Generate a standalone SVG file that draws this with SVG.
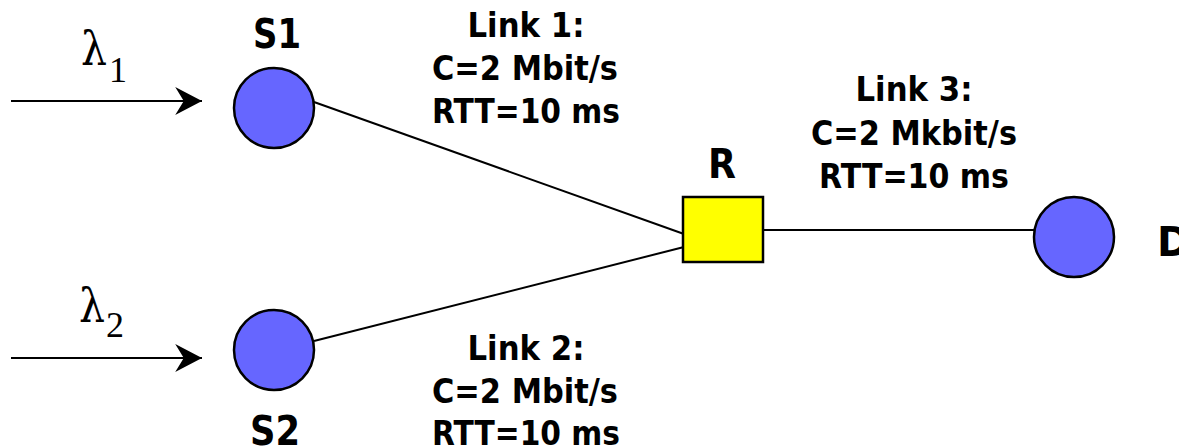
<svg xmlns="http://www.w3.org/2000/svg" width="1179" height="447" viewBox="0 0 1179 447">
  <style>
    .host { fill: #6666ff; stroke: #000; stroke-width: 2.5; }
    .router { fill: #ffff00; stroke: #000; stroke-width: 2.5; }
    .link { stroke: #000; stroke-width: 2; fill: none; }
    .name { font-family: "DejaVu Sans", "Liberation Sans", sans-serif; font-weight: bold; font-size: 40px; fill: #000; }
    .info { font-family: "DejaVu Sans", "Liberation Sans", sans-serif; font-weight: bold; font-size: 34px; fill: #000; text-anchor: middle; }
    .rate { font-family: "Liberation Serif", "DejaVu Serif", serif; fill: #000; }
    .lambda { font-family: "DejaVu Serif", "Liberation Serif", serif; font-size: 46px; }
    .sub { font-size: 36px; }
  </style>
  <defs>
    <marker id="head" markerUnits="userSpaceOnUse" markerWidth="30" markerHeight="30" viewBox="-26 -14 28 28" refX="0" refY="0" orient="auto">
      <path d="M0,0 L-25,-13 L-17,0 L-25,13 Z" fill="#000"/>
    </marker>
  </defs>

  <!-- connectors -->
  <g id="connectors">
    <line class="link" x1="11" y1="101" x2="202" y2="101" marker-end="url(#head)"/>
    <line class="link" x1="11" y1="358" x2="202" y2="358" marker-end="url(#head)"/>
    <line class="link" x1="314" y1="102" x2="684" y2="234"/>
    <line class="link" x1="314" y1="341" x2="684" y2="247"/>
    <line class="link" x1="763" y1="230" x2="1034" y2="230"/>
  </g>

  <!-- arrival rates -->
  <g id="rate1">
    <text class="rate lambda" x="81" y="65" textLength="26" lengthAdjust="spacingAndGlyphs">λ</text>
    <text class="rate sub" x="109" y="82">1</text>
  </g>
  <g id="rate2">
    <text class="rate lambda" x="79" y="322" textLength="26" lengthAdjust="spacingAndGlyphs">λ</text>
    <text class="rate sub" x="106" y="337">2</text>
  </g>

  <g id="S1">
    <circle class="host" cx="274" cy="108" r="40"/>
    <text class="name" x="277" y="48" text-anchor="middle" textLength="48" lengthAdjust="spacingAndGlyphs">S1</text>
  </g>
  <g id="S2">
    <circle class="host" cx="274" cy="350" r="40"/>
    <text class="name" x="275" y="445" text-anchor="middle" textLength="50" lengthAdjust="spacingAndGlyphs">S2</text>
  </g>
  <g id="R">
    <rect class="router" x="683" y="197" width="80" height="65"/>
    <text class="name" x="722" y="178" text-anchor="middle" textLength="28" lengthAdjust="spacingAndGlyphs">R</text>
  </g>
  <g id="D">
    <circle class="host" cx="1074" cy="237" r="40"/>
    <text class="name" x="1157" y="256">D</text>
  </g>

  <!-- link parameters -->
  <g id="link1-label">
    <text class="info" x="526" y="37" textLength="117" lengthAdjust="spacingAndGlyphs">Link 1:</text>
    <text class="info" x="525" y="80" textLength="186" lengthAdjust="spacingAndGlyphs">C=2 Mbit/s</text>
    <text class="info" x="526" y="123" textLength="188" lengthAdjust="spacingAndGlyphs">RTT=10 ms</text>
  </g>
  <g id="link2-label">
    <text class="info" x="526" y="360" textLength="117" lengthAdjust="spacingAndGlyphs">Link 2:</text>
    <text class="info" x="525" y="403" textLength="186" lengthAdjust="spacingAndGlyphs">C=2 Mbit/s</text>
    <text class="info" x="526" y="445" textLength="188" lengthAdjust="spacingAndGlyphs">RTT=10 ms</text>
  </g>
  <g id="link3-label">
    <text class="info" x="914" y="101" textLength="117" lengthAdjust="spacingAndGlyphs">Link 3:</text>
    <text class="info" x="914" y="145" textLength="206" lengthAdjust="spacingAndGlyphs">C=2 Mkbit/s</text>
    <text class="info" x="914" y="188" textLength="190" lengthAdjust="spacingAndGlyphs">RTT=10 ms</text>
  </g>
</svg>
